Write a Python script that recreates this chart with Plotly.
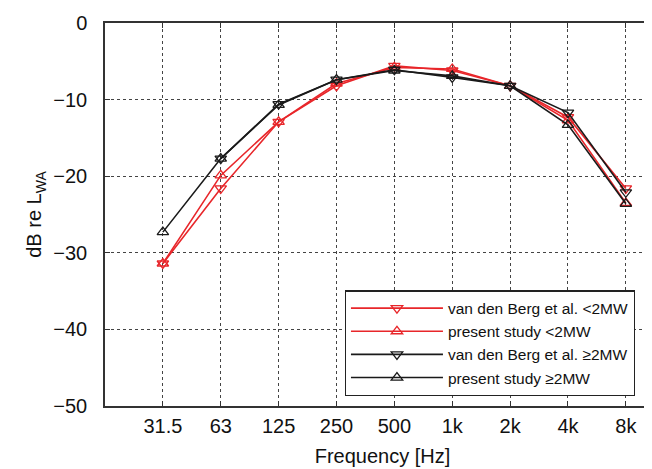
import plotly.graph_objects as go

freqs = ["31.5", "63", "125", "250", "500", "1k", "2k", "4k", "8k"]
vdb_small = [-31.4, -21.6, -12.9, -8.2, -5.6, -6.2, -8.2, -12.3, -21.6]
ps_small = [-31.4, -19.9, -12.9, -7.9, -5.8, -6.0, -8.2, -12.7, -23.5]
vdb_large = [None, -17.7, -10.6, -7.4, -6.1, -7.1, -8.2, -11.7, -22.1]
ps_large = [-27.3, -17.7, -10.7, -7.4, -6.2, -6.9, -8.2, -13.3, -23.6]

names = ["van den Berg et al. <2MW", "present study <2MW",
         "van den Berg et al. \u22652MW", "present study \u22652MW"]

RED = "#e8262a"
BLK = "#1a1a1a"

fig = go.Figure()
series = [(vdb_small, names[0], RED, "triangle-down-open"),
          (ps_small, names[1], RED, "triangle-up-open"),
          (vdb_large, names[2], BLK, "triangle-down-open"),
          (ps_large, names[3], BLK, "triangle-up-open")]
for ys, nm, col, sym in series:
    fig.add_trace(go.Scatter(
        x=freqs, y=ys, name=nm, mode="lines+markers",
        line=dict(color=col, width=1.6),
        marker=dict(symbol=sym, size=10, color=col, line=dict(width=1.3, color=col)),
        connectgaps=False,
    ))

font = "Liberation Sans, Arial, Helvetica, sans-serif"
fig.update_layout(
    width=652, height=469,
    margin=dict(l=97, r=0, t=15, b=71),
    paper_bgcolor="white", plot_bgcolor="white",
    font=dict(family=font, size=20, color="#111"),
    legend=dict(
        x=0.432, y=0.302, xanchor="left", yanchor="top",
        bgcolor="white", bordercolor="#222", borderwidth=1.2,
        font=dict(size=15.5, family=font, color="#111"),
        itemwidth=92, tracegroupgap=0,
    ),
    showlegend=True,
)
fig.update_xaxes(
    type="category", range=[-1, 8.59],
    showline=True, linecolor="#333", linewidth=1.5, mirror="ticks",
    ticks="inside", ticklen=5, tickcolor="#333",
    showgrid=True, gridcolor="#444", griddash="dot", gridwidth=1,
    tickfont=dict(size=20), ticklabelstandoff=1,
    title=dict(text="Frequency [Hz]", font=dict(size=20), standoff=13),
    zeroline=False,
)
fig.update_yaxes(
    range=[-50, 0], dtick=10,
    showline=True, linecolor="#333", linewidth=1.5, mirror=False,
    ticks="inside", ticklen=5, tickcolor="#333",
    showgrid=True, gridcolor="#444", griddash="dot", gridwidth=1,
    tickfont=dict(size=20), ticklabelstandoff=12,
    title=dict(text="dB re L<sub>WA</sub>", font=dict(size=20), standoff=6),
    zeroline=False,
)
fig.write_html("out.html")
